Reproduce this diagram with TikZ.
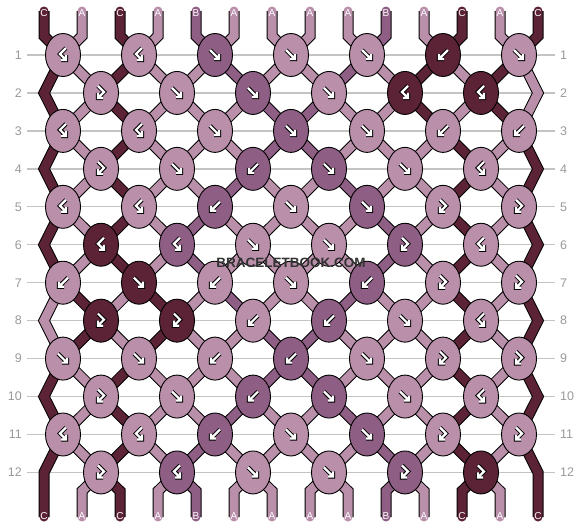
\documentclass[tikz,border=0pt]{standalone}
\usepackage{fontspec}
\setmainfont{Liberation Sans}
\usetikzlibrary{shapes.geometric}
\pgfdeclarelayer{grid}
\pgfdeclarelayer{strings}
\pgfsetlayers{grid,strings,main}
\definecolor{cA}{HTML}{B98FAA}
\definecolor{cB}{HTML}{8E5E84}
\definecolor{cC}{HTML}{5B2335}
\definecolor{numgray}{HTML}{9A9A9A}
\definecolor{linegray}{HTML}{C4C4C4}
\definecolor{wmark}{HTML}{333333}
\newcommand\drawglyph[1]{%
  \if#1F\draw[glyph] (-5,-5)--(4,4) (4,-1)--(4,4)--(-1,4);\fi
  \if#1B\draw[glyph] (5,-5)--(-4,4) (-4,-1)--(-4,4)--(1,4);\fi
  \if#1R\draw[glyph] (-3,-7)--(3,-1)--(-3,5) (-3,0)--(-3,5)--(2,5);\fi
  \if#1L\draw[glyph] (3,-7)--(-3,-1)--(3,5) (3,0)--(3,5)--(-2,5);\fi
}
\begin{document}
\begin{tikzpicture}[x=1pt,y=-1pt,
  knot/.style={ellipse, draw=black, line width=0.9pt, minimum width=35pt, minimum height=43pt, inner sep=0pt, fill=c#1},
  strand/.style={draw=c#1, line width=9pt, line join=miter, preaction={draw=black, line width=11pt}},
  glyph/.style={white, line width=2.2pt, line cap=butt, line join=miter, preaction={draw=black, line width=4.2pt}},
  num/.style={text=numgray, font=\fontsize{12.5}{14}\selectfont, inner sep=0pt},
  endlabel/.style={text=white, font=\fontsize{10}{12}\selectfont, inner sep=0pt},
  wm/.style={font=\fontsize{13.5}{16}\selectfont\bfseries, inner sep=0pt}]
\useasboundingbox (0,0) rectangle (582,528);
\begin{pgfonlayer}{grid}
  \fill[white] (0,0) rectangle (582,528);
\end{pgfonlayer}
% row numbers and guide lines
\foreach \r in {1,...,12} {
  \pgfmathsetmacro\yy{55+37.95*(\r-1)}
  \node[num, anchor=east] (nl-\r) at (22,\yy) {\r};
  \node[num, anchor=west] (nr-\r) at (560,\yy) {\r};
  \begin{pgfonlayer}{grid}
    \draw[linegray, line width=1.3pt, shorten <=5pt, shorten >=5pt] (nl-\r.east) -- (nr-\r.west);
  \end{pgfonlayer}
}
% knots
\foreach \r/\list in {
  1/{A/L,A/L,B/F,A/F,A/F,C/B,A/F},
  2/{A/R,A/F,B/F,A/F,C/L,C/L},
  3/{A/L,A/L,A/F,B/F,A/F,A/B,A/B},
  4/{A/R,A/F,B/B,B/F,A/F,A/L},
  5/{A/L,A/L,B/B,A/F,B/F,A/R,A/R},
  6/{C/L,B/L,A/F,A/F,B/R,A/L},
  7/{A/B,C/F,A/B,A/F,B/B,A/R,A/R},
  8/{C/R,C/R,A/B,B/B,A/F,A/L},
  9/{A/F,A/F,A/B,B/B,A/F,A/R,A/R},
  10/{A/R,A/F,B/B,B/F,A/F,A/L},
  11/{A/L,A/L,B/B,A/F,B/F,A/R,A/R},
  12/{A/R,B/L,A/F,A/F,B/R,C/R}} {
  \pgfmathsetmacro\yy{55+37.95*(\r-1)}
  \pgfmathtruncatemacro\odd{mod(\r,2)}
  \foreach \c/\t [count=\i from 0] in \list {
    \pgfmathsetmacro\xx{\odd==1 ? 63+76*\i : 101+76*\i}
    \node[knot=\c] (k-\r-\i) at (\xx,\yy) {};
    \begin{scope}[shift={(\xx,\yy)}]
      \drawglyph{\t}
    \end{scope}
  }
}
% strands between rows
\begin{pgfonlayer}{strings}
\foreach \r/\list in {
  1/{C,A,C,A,A,B,A,A,B,A,C,A,C,A},
  2/{C,A,C,A,A,A,B,B,A,A,C,A,C,A},
  3/{C,A,C,A,A,A,B,B,A,A,A,C,A,C},
  4/{C,A,C,A,A,B,A,A,B,A,A,C,A,C},
  5/{C,A,C,A,B,A,A,A,A,B,A,C,A,C},
  6/{C,A,C,A,B,A,A,A,A,B,A,C,A,C},
  7/{A,C,A,C,A,B,A,A,B,A,A,C,A,C},
  8/{A,C,A,C,A,A,B,B,A,A,A,C,A,C},
  9/{C,A,C,A,A,A,B,B,A,A,A,C,A,C},
  10/{C,A,C,A,A,B,A,A,B,A,A,C,A,C},
  11/{C,A,C,A,B,A,A,A,A,B,A,C,A,C}} {
  \pgfmathtruncatemacro\odd{mod(\r,2)}
  \pgfmathtruncatemacro\rn{\r+1}
  \foreach \c [count=\p] in \list {
    \ifnum\p>1 \ifnum\p<14
      \pgfmathtruncatemacro\ka{\odd==1 ? (\p-1)/2 : (\p-2)/2}
      \pgfmathtruncatemacro\kb{\odd==1 ? (\p-2)/2 : (\p-1)/2}
      \draw[strand=\c] (k-\r-\ka.center) -- (k-\rn-\kb.center);
    \fi\fi
  }
}
% edge strands
\foreach \r/\cl/\cr in {1/C/A,3/C/C,5/C/C,7/A/C,9/C/C} {
  \pgfmathtruncatemacro\rr{\r+2}
  \pgfmathsetmacro\yb{55+37.95*\r}
  \draw[strand=\cl] (k-\r-0.center) -- (44,\yb) -- (k-\rr-0.center);
  \draw[strand=\cr] (k-\r-6.center) -- (538,\yb) -- (k-\rr-6.center);
}
\draw[strand=C, line cap=round] (k-11-0.center) -- (44,472.45) -- (44,517);
\draw[strand=C, line cap=round] (k-11-6.center) -- (538,472.45) -- (538,517);
\end{pgfonlayer}
% top strands
\foreach \c [count=\p] in {C,A,C,A,B,A,A,A,A,B,A,C,A,C} {
  \pgfmathsetmacro\xs{44+38*(\p-1)}
  \pgfmathtruncatemacro\kk{(\p-1)/2}
  \begin{pgfonlayer}{strings}
    \draw[strand=\c, line cap=round] (\xs,11) -- (\xs,36) -- (k-1-\kk.center);
  \end{pgfonlayer}
  \node[endlabel] (top-\p) at (\xs,13) {\c};
}
% bottom strands
\foreach \c [count=\p] in {C,A,C,A,B,A,A,A,A,B,A,C,A,C} {
  \pgfmathsetmacro\xs{44+38*(\p-1)}
  \ifnum\p>1 \ifnum\p<14
    \pgfmathtruncatemacro\kk{(\p-2)/2}
    \begin{pgfonlayer}{strings}
      \draw[strand=\c, line cap=round] (k-12-\kk.center) -- (\xs,491) -- (\xs,517);
    \end{pgfonlayer}
  \fi\fi
  \node[endlabel] (bot-\p) at (\xs,516) {\c};
}
% watermark
\node[wm, text=wmark] (wm) at (291,263) {BRACELETBOOK.COM};
\end{tikzpicture}
\end{document}
